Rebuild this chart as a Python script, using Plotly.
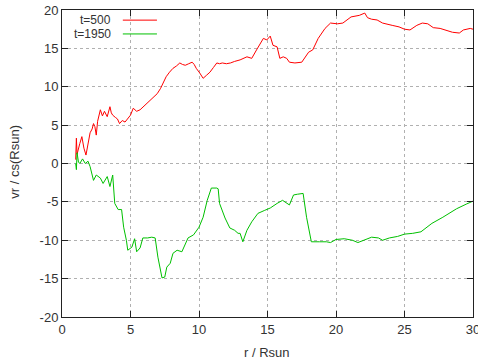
import plotly.graph_objects as go

# t=500 series (red)
r500 = [1.0, 1.05, 1.1, 1.2, 1.3, 1.45, 1.6, 1.75, 1.9, 2.05, 2.2, 2.3, 2.4, 2.5, 2.6, 2.8, 2.95, 3.1, 3.3, 3.5, 3.6, 3.7, 3.9, 4.05, 4.2, 4.4, 4.6, 4.8, 5.0, 5.2, 5.45, 5.7, 5.95, 6.2, 6.45, 6.7, 6.95, 7.2, 7.4, 7.6, 7.85, 8.1, 8.35, 8.6, 8.8, 9.0, 9.25, 9.5, 9.65, 9.8, 10.05, 10.3, 10.55, 10.8, 11.05, 11.3, 11.5, 11.7, 12.0, 12.3, 12.6, 13.0, 13.5, 13.85, 14.2, 14.45, 14.7, 14.95, 15.2, 15.4, 15.7, 15.9, 16.15, 16.4, 16.6, 17.0, 17.5, 18.0, 18.3, 18.7, 19.2, 19.6, 20.1, 20.5, 21.1, 21.7, 22.1, 22.3, 22.6, 23.0, 23.4, 24.1, 24.6, 25.0, 25.4, 25.9, 26.3, 26.7, 27.1, 27.6, 28.1, 28.5, 29.0, 29.3, 29.8, 30.0]
v500 = [0.5, 3.3, 1.2, 2.0, 2.6, 3.5, 2.0, 1.1, 2.8, 4.0, 4.5, 5.2, 4.8, 3.7, 5.5, 7.0, 6.2, 6.8, 6.1, 7.4, 6.6, 6.3, 6.0, 5.8, 5.2, 5.6, 5.4, 5.9, 6.3, 7.2, 6.8, 7.0, 7.4, 7.9, 8.2, 8.7, 9.1, 9.8, 10.5, 11.3, 11.9, 12.4, 12.7, 13.1, 12.9, 12.8, 13.0, 13.2, 12.9, 12.4, 11.8, 11.1, 11.5, 11.9, 12.5, 13.1, 13.0, 13.1, 13.0, 13.1, 13.3, 13.5, 13.9, 13.7, 14.8, 15.6, 16.3, 16.1, 16.6, 15.4, 15.2, 13.7, 13.9, 13.7, 13.2, 13.1, 13.2, 14.5, 14.8, 16.3, 17.6, 18.3, 18.2, 18.3, 19.1, 19.3, 19.6, 19.0, 18.8, 18.7, 18.3, 18.0, 17.8, 17.5, 17.4, 18.0, 18.3, 18.2, 17.7, 17.6, 17.3, 17.1, 17.0, 17.4, 17.6, 17.5]

# t=1950 series (green)
r1950 = [1.0, 1.05, 1.1, 1.2, 1.3, 1.5, 1.7, 1.9, 2.05, 2.3, 2.5, 2.8, 3.0, 3.3, 3.5, 3.7, 3.85, 4.1, 4.35, 4.5, 4.7, 4.8, 5.1, 5.3, 5.45, 5.7, 5.9, 6.25, 6.55, 6.8, 7.0, 7.3, 7.5, 7.65, 7.9, 8.1, 8.4, 8.75, 9.2, 9.6, 10.0, 10.3, 10.6, 10.9, 11.3, 11.4, 11.5, 11.9, 12.25, 12.6, 12.85, 13.0, 13.2, 13.5, 13.85, 14.3, 14.8, 15.2, 15.7, 16.1, 16.6, 16.9, 17.2, 17.6, 17.85, 18.2, 18.8, 19.3, 19.6, 20.0, 20.6, 21.2, 21.6, 22.1, 22.6, 23.1, 23.4, 23.9, 24.5, 25.0, 25.6, 26.2, 27.0, 27.8, 28.8, 29.5, 30.0]
v1950 = [0.0, -0.8, 1.4, 0.2, 0.0, 0.6, 0.0, 0.3, -0.4, -2.2, -1.5, -1.9, -2.6, -1.7, -3.0, -1.5, -5.2, -6.0, -6.0, -8.3, -10.0, -11.3, -10.9, -9.8, -11.5, -11.0, -9.7, -9.7, -9.6, -9.7, -12.2, -14.9, -14.8, -13.5, -13.0, -11.7, -11.3, -11.5, -9.7, -9.3, -8.3, -7.0, -4.8, -3.2, -3.2, -3.3, -5.2, -7.1, -8.4, -8.7, -9.1, -9.1, -10.2, -8.7, -7.6, -6.5, -6.1, -5.8, -5.2, -4.8, -5.4, -4.1, -4.0, -3.9, -7.0, -10.2, -10.2, -10.2, -10.3, -9.9, -9.8, -10.0, -10.3, -9.9, -9.6, -9.7, -10.0, -9.7, -9.5, -9.2, -9.1, -8.9, -7.8, -7.0, -5.9, -5.3, -4.9]

x_ticks = [0, 5, 10, 15, 20, 25, 30]
y_ticks = [-20, -15, -10, -5, 0, 5, 10, 15, 20]
legend_labels = ["t=500", "t=1950"]
x_title = "r / Rsun"
y_title = "vr / cs(Rsun)"

RED = "#ff0000"
GREEN = "#00c000"

fig = go.Figure()
fig.add_trace(go.Scatter(x=r500, y=v500, mode="lines", name=legend_labels[0],
                         line=dict(color=RED, width=1)))
fig.add_trace(go.Scatter(x=r1950, y=v1950, mode="lines", name=legend_labels[1],
                         line=dict(color=GREEN, width=1)))

font = dict(family="Liberation Sans, Arial, sans-serif", size=13, color="#333333")
legend_font = dict(family="Liberation Sans, Arial, sans-serif", size=12, color="#333333")

axis_common = dict(
    showline=True, linecolor="#222222", linewidth=1, mirror="allticks",
    ticks="inside", ticklen=6, tickcolor="#222222",
    showgrid=True, gridcolor="#b0b0b0", griddash="dot", gridwidth=1,
    zeroline=False, tickfont=font, automargin=False, ticklabeloverflow="allow",
)

fig.update_layout(
    width=478, height=362,
    margin=dict(l=62, r=5, t=10, b=45, autoexpand=False),
    paper_bgcolor="white", plot_bgcolor="white",
    showlegend=False,
    font=font,
    xaxis=dict(range=[0, 30], tickvals=x_ticks, ticktext=[str(v) for v in x_ticks],
               **axis_common),
    yaxis=dict(range=[-20, 20], tickvals=y_ticks, ticktext=[str(v) for v in y_ticks],
               **axis_common),
)

# axis titles placed like gnuplot's
fig.add_annotation(x=0.498, y=-0.117, xref="paper", yref="paper", text=x_title,
                   showarrow=False, xanchor="center", yanchor="middle", font=font)
fig.add_annotation(x=-0.115, y=0.505, xref="paper", yref="paper", text=y_title,
                   showarrow=False, xanchor="center", yanchor="middle", textangle=-90, font=font)

# gnuplot-style legend: label right-aligned, then line sample
leg_y = [0.967, 0.922]
for lab, col, yy in zip(legend_labels, [RED, GREEN], leg_y):
    fig.add_annotation(x=0.122, y=yy, xref="paper", yref="paper", text=lab,
                       showarrow=False, xanchor="right", yanchor="middle", font=legend_font,
                       borderpad=0)
    fig.add_shape(type="line", xref="paper", yref="paper", x0=0.148, x1=0.231,
                  y0=yy, y1=yy, line=dict(color=col, width=1))

# remove the page's default body margin so the figure fills the window exactly
fig.write_html("out.html",
               config={"displayModeBar": False},
               post_script="document.body.style.margin='0';document.body.style.overflow='hidden';")
